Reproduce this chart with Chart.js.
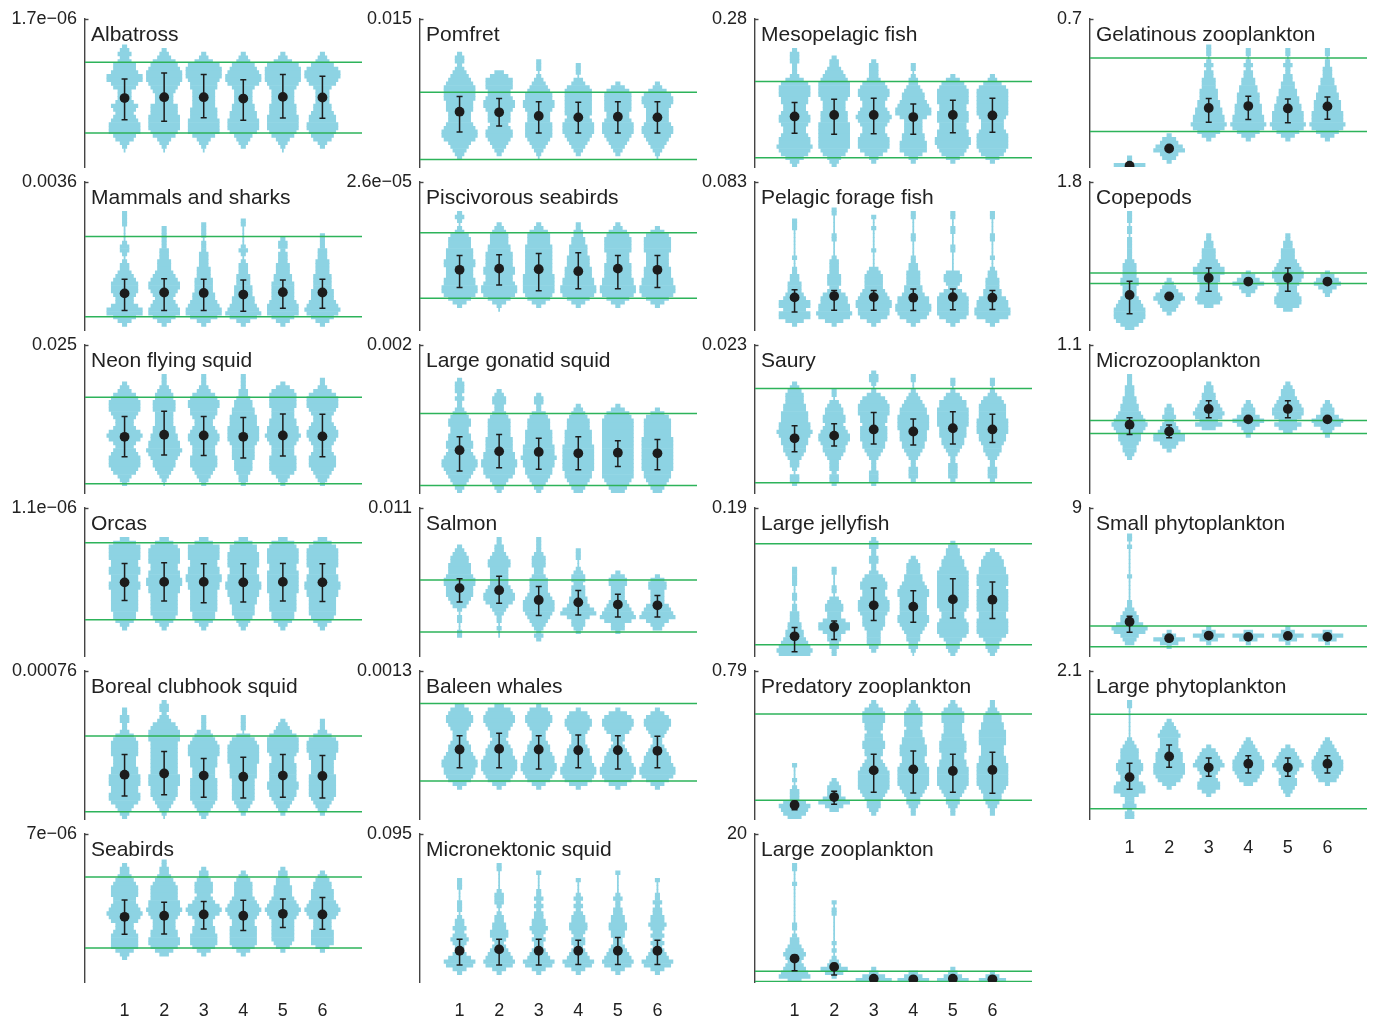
<!DOCTYPE html>
<html>
<head>
<meta charset="utf-8">
<title>Biomass distributions by group</title>
<script src="https://cdn.jsdelivr.net/npm/chart.js@4.4.1/dist/chart.umd.min.js"></script>
<style>
  html, body { margin: 0; padding: 0; background: #ffffff; }
  body { position: relative; width: 1373px; height: 1020px; overflow: hidden; }
  canvas { position: absolute; }
</style>
</head>
<body>
<script>
// ---- data -------------------------------------------------------------
// Panels run down each column, left to right.
const panelNames = [
  'Albatross', 'Mammals and sharks', 'Neon flying squid', 'Orcas', 'Boreal clubhook squid', 'Seabirds',
  'Pomfret', 'Piscivorous seabirds', 'Large gonatid squid', 'Salmon', 'Baleen whales', 'Micronektonic squid',
  'Mesopelagic fish', 'Pelagic forage fish', 'Saury', 'Large jellyfish', 'Predatory zooplankton', 'Large zooplankton',
  'Gelatinous zooplankton', 'Copepods', 'Microzooplankton', 'Small phytoplankton', 'Large phytoplankton'
];

// Upper end of each panel's axis, as printed.
const topLabels = [
  '1.7e\u221206', '0.0036', '0.025', '1.1e\u221206', '0.00076', '7e\u221206',
  '0.015', '2.6e\u221205', '0.002', '0.011', '0.0013', '0.095',
  '0.28', '0.083', '0.023', '0.19', '0.79', '20',
  '0.7', '1.8', '1.1', '9', '2.1'
];

// Scenario numbers along the x axis.
const scenarios = [1, 2, 3, 4, 5, 6];

// All values below are fractions of each panel's axis span (0 = bottom, 1 = top).
// Reference bounds (green lines); null where a panel has none.
const boundHigh = [0.707, 0.631, 0.646, 0.764, 0.560, 0.709,
                   0.505, 0.657, 0.536, 0.513, 0.779, null,
                   0.577, null, 0.705, 0.758, 0.709, 0.073,
                   0.735, 0.384, 0.489, 0.202, 0.707];
const boundLow  = [0.229, 0.090, 0.062, 0.245, 0.049, 0.229,
                   0.050, 0.215, 0.051, 0.162, 0.256, null,
                   0.062, null, 0.070, 0.076, 0.127, 0.004,
                   0.240, 0.313, 0.401, 0.062, 0.069];

// Mean of each scenario.
const means = [
  [0.465, 0.471, 0.471, 0.462, 0.473, 0.469],
  [0.247, 0.253, 0.250, 0.239, 0.255, 0.253],
  [0.379, 0.393, 0.388, 0.379, 0.388, 0.382],
  [0.497, 0.500, 0.500, 0.497, 0.500, 0.497],
  [0.299, 0.307, 0.293, 0.285, 0.293, 0.290],
  [0.440, 0.447, 0.456, 0.447, 0.460, 0.456],
  [0.373, 0.369, 0.344, 0.335, 0.339, 0.335],
  [0.406, 0.414, 0.410, 0.397, 0.414, 0.406],
  [0.289, 0.281, 0.277, 0.268, 0.272, 0.268],
  [0.458, 0.444, 0.378, 0.362, 0.347, 0.342],
  [0.469, 0.473, 0.469, 0.464, 0.464, 0.460],
  [0.211, 0.220, 0.211, 0.211, 0.211, 0.211],
  [0.341, 0.351, 0.351, 0.337, 0.351, 0.348],
  [0.220, 0.229, 0.222, 0.218, 0.222, 0.218],
  [0.369, 0.387, 0.429, 0.415, 0.437, 0.429],
  [0.133, 0.196, 0.342, 0.333, 0.382, 0.380],
  [0.095, 0.148, 0.328, 0.335, 0.324, 0.331],
  [0.158, 0.102, 0.022, 0.018, 0.022, 0.018],
  [0.009, 0.125, 0.398, 0.411, 0.395, 0.409],
  [0.236, 0.227, 0.351, 0.327, 0.351, 0.327],
  [0.461, 0.415, 0.567, 0.497, 0.567, 0.497],
  [0.231, 0.120, 0.138, 0.129, 0.136, 0.129],
  [0.282, 0.422, 0.347, 0.373, 0.347, 0.373]
];

// Error bar ends; null where the bar is too short to show.
const errHigh = [
  [0.593, 0.635, 0.624, 0.589, 0.624, 0.613],
  [0.343, 0.345, 0.343, 0.337, 0.337, 0.343],
  [0.517, 0.551, 0.517, 0.509, 0.533, 0.531],
  [0.624, 0.629, 0.622, 0.622, 0.624, 0.622],
  [0.436, 0.456, 0.408, 0.417, 0.436, 0.428],
  [0.553, 0.538, 0.544, 0.551, 0.560, 0.571],
  [0.475, 0.463, 0.441, 0.437, 0.441, 0.441],
  [0.503, 0.508, 0.516, 0.521, 0.503, 0.503],
  [0.379, 0.395, 0.370, 0.379, 0.353, 0.361],
  [0.522, 0.538, 0.469, 0.442, 0.416, 0.409],
  [0.562, 0.579, 0.562, 0.567, 0.562, 0.558],
  [0.288, 0.288, 0.288, 0.282, 0.300, 0.282],
  [0.436, 0.457, 0.464, 0.425, 0.450, 0.464],
  [0.271, 0.267, 0.267, 0.276, 0.276, 0.267],
  [0.454, 0.468, 0.543, 0.500, 0.549, 0.532],
  [0.193, 0.236, 0.458, 0.440, 0.522, 0.500],
  [0.120, 0.187, 0.437, 0.458, 0.437, 0.451],
  [0.180, 0.124, null, null, null, null],
  [null, null, 0.462, 0.478, 0.458, 0.473],
  [0.329, null, 0.418, null, 0.418, null],
  [0.507, 0.458, 0.623, null, 0.623, null],
  [0.269, null, null, null, null, null],
  [0.376, 0.500, 0.411, 0.427, 0.411, 0.427]
];
const errLow = [
  [0.318, 0.309, 0.333, 0.316, 0.331, 0.329],
  [0.132, 0.132, 0.132, 0.127, 0.146, 0.146],
  [0.245, 0.256, 0.253, 0.236, 0.250, 0.245],
  [0.374, 0.371, 0.360, 0.365, 0.371, 0.368],
  [0.155, 0.164, 0.147, 0.142, 0.147, 0.142],
  [0.322, 0.324, 0.358, 0.347, 0.367, 0.356],
  [0.237, 0.276, 0.229, 0.229, 0.229, 0.229],
  [0.287, 0.304, 0.265, 0.278, 0.278, 0.287],
  [0.149, 0.170, 0.161, 0.157, 0.179, 0.157],
  [0.364, 0.356, 0.273, 0.276, 0.264, 0.264],
  [0.345, 0.345, 0.337, 0.345, 0.337, 0.345],
  [0.114, 0.114, 0.114, 0.118, 0.118, 0.118],
  [0.228, 0.221, 0.225, 0.221, 0.231, 0.235],
  [0.122, 0.133, 0.133, 0.131, 0.136, 0.138],
  [0.278, 0.317, 0.331, 0.324, 0.331, 0.341],
  [0.029, 0.111, 0.240, 0.227, 0.256, 0.253],
  [0.063, 0.099, 0.180, 0.176, 0.180, 0.173],
  [0.076, 0.047, null, null, null, null],
  [null, null, 0.302, 0.320, 0.298, 0.322],
  [0.109, null, 0.262, null, 0.262, null],
  [0.394, 0.373, 0.507, null, 0.507, null],
  [0.160, null, null, null, null, null],
  [0.200, 0.349, 0.289, 0.311, 0.289, 0.311]
];

// Violin outlines. The axis is split into 40 equal bins counted from the top;
// "s:ddd" starts at bin s and gives one half-width digit per bin going down
// ('.' = thin connecting line, digit n = n * STEP scenario units).
const violinShapes = [
  ['7:1232355688653334654567775421.', '8:123567888765444666777765321.', '9:12478887665555566677775321.',
   '9:12356788754444556677764321', '9:12478888765555666777765321.', '9:12357887643333445667765421'],
  ['8:1111....1221.122345666544688531', '12:111111222333456776545677531', '11:1111.11122223334444556788631',
   '10:11.....121.122233344455678631', '15:122122233344555556777531', '14:1111222333344445556787531'],
  ['10:1235677765445787545677765321', '8:11123445554444556677876554321.', '8:111235677665445677655566654321',
   '8:111122344556667777655554443221', '10:1356666555667787655566665321', '9:11246777654456776544566654321'],
  ['8:2577776677667766666655421', '8:2467777667788776666665421', '8:2477776677887766666655421',
   '8:2466777766778877665554321', '8:2567777667777776666655421', '8:2467777766778877666665421'],
  ['10:112211245666655566777667764321', '8:1221235677766666666677766654321.', '12:1111345677766655566666654321',
   '12:1111.3567777766665555554321', '13:12346777765566666776654321', '13:11124677766555566666654321'],
  ['8:12234566655678764456666421', '7:11223456666778765556677642', '9:122344434578754455666531',
   '10:12344445678765566666531', '9:12233444567876555555431', '10:1234455567876444555531'],
  ['9:12212345677776665556788754321', '14:24666556776555456654321', '11:111.1234566776555666654321.',
   '12:111.235666666656777654321', '17:13566666556777654321', '17:12467765555677654321.'],
  ['8:121.1245556667766677887531', '11:12344455666677667887531.', '11:12455566666666777776531',
   '11:11223344455566677887531', '11:12456666555666677887531', '12:1356666555566677887531'],
  ['9:1222121123455445566567887654321', '12:1233223455555666677887764321', '13:122113455566667778776654321',
   '16:123455566667777777665432', '16:1356777777777777777765432', '17:13566666777777777665432'],
  ['10:123445556776665431.11..11', '8:11223455444445677643211.1..', '8:1111233322344445677765432121',
   '11:111..123323334457853321', '17:13443333456786331', '18:134433335678532'],
  ['9:24566543334556788776531', '9:25677654434566788876531', '9:14566543334556778876531',
   '10:1456654333455667887641', '10:1467765332345667887641', '10:1356654322345667887531'],
  ['12:111...111.1223234322357631', '8:11.....12221.12233443234567631', '10:1....11212122334323223457631',
   '12:1...1212123344323323457631', '10:1.....1211223344332234567631', '12:1...1121223343232323457631'],
  ['8:12221112467776655677655677876421', '10:122345677776555666777777765321', '11:1222235677655678765567776421',
   '12:11.122345567886444455666421', '15:135677776677766778876531', '15:124677777776555677776531'],
  ['10:111.......1..1122333457757741', '7:11.....11....1222233323566778741', '9:1..1.....1....2344445678877631',
   '8:11....11....1122333344577887631', '8:11..11...11.....344324677777631', '8:11....11....1..1223334467788731'],
  ['10:123444556667787665543221.221', '12:11.23445545677655432221221', '7:1221.13567776656666554321112221',
   '8:11..1234566777766655432112221', '9:11.1346677777666554321122221', '9:11.1245666677776654432112221'],
  ['16:11111..11.11222334456787', '16:11...11.2344335775332211', '8:1221122112456655677765554333321',
   '13:12333445677666667765433221.', '9:1233455677777777776556777643321', '11:13455667776777777667777643321'],
  ['25:1...1.122257653', '29:123335742', '8:1245554434455443456777776543321',
   '8:1234444344556665567777765433211', '8:1245554445566655667777765433211', '8:1123445566665556677777765443211'],
  ['8:11...1..........11.1223454345673', '18:1.11.......1.1.123641', '36:1258',
   '37:247', '36:1247', '37:136'],
  ['37:117', '31:13467431', '7:111.1212233344455667787531',
   '8:11.1212233445556667787531', '8:11.1211223344556677787531', '8:11.1122233445566677787531'],
  ['8:111.11.1111112333344333456777642', '26:1234675431', '14:11223334577554445652',
   '24:1357431', '14:112233345677654456652', '24:1356421'],
  ['8:11122233445678765543321', '16:1223234577431', '10:1223345676463',
   '15:1233575321', '10:12334567764642', '15:1233576321'],
  ['7:11.1.......1......112344687432', '33:13741', '32:13741',
   '33:2741', '32:13741', '33:2741'],
  ['8:11........1234445665446774223122', '13:1234544456667776531', '20:13456754345531',
   '18:1234567776542', '20:13456754344321', '18:1234567776541']
];

// ---- styling ----------------------------------------------------------
const FONT = '"Liberation Sans", Arial, Helvetica, sans-serif';
const TEXT = '#222222';
const AXIS = '#444444';
const VIOLIN = '#8dd3e3';
const BOUND = '#2db35a';
const INK = '#1c1c1c';
const BINS = 40;
const STEP = 0.056;   // half-width per digit, in scenario units
const THREAD = 0.014; // half-width of the thin connecting line

Chart.defaults.font.family = FONT;
Chart.defaults.color = TEXT;

// Horizontal floating bars, one per occupied bin, stacked into violins.
function violinBars(shapes) {
  const bars = [];
  shapes.forEach((shape, k) => {
    const centre = scenarios[k];
    const [startText, body] = shape.split(':');
    const start = parseInt(startText, 10);
    for (let j = 0; j < body.length; j++) {
      const bin = start + j;
      const ch = body[j];
      if (bin >= BINS || ch === ' ') continue;
      const half = ch === '.' ? THREAD : Number(ch) * STEP;
      if (!(half > 0)) continue;
      bars.push({ y: 1 - (bin + 0.5) / BINS, x: [centre - half, centre + half] });
    }
  });
  return bars;
}

// Axis cap tick and the panel title inside the plot box.
const panelDecor = {
  id: 'panelDecor',
  afterDraw(chart, args, opts) {
    const { ctx, chartArea } = chart;
    const top = chart.scales.y.getPixelForValue(1);
    ctx.save();
    ctx.strokeStyle = AXIS;
    ctx.lineWidth = 1.4;
    ctx.beginPath();
    ctx.moveTo(chartArea.left, top + 0.7);
    ctx.lineTo(chartArea.left + 3.5, top + 0.7);
    ctx.stroke();
    ctx.fillStyle = TEXT;
    ctx.font = '21px ' + FONT;
    ctx.textAlign = 'left';
    ctx.textBaseline = 'alphabetic';
    ctx.fillText(opts.title, chartArea.left + 6, chartArea.top + 22);
    ctx.restore();
  }
};

function buildPanel(p) {
  const col = Math.floor(p / 6);
  const row = p % 6;
  const isBottom = row === 5 || p === panelNames.length - 1;
  const width = 370;
  // plot box: 17px from the canvas top, 150px tall; the rest is margin
  const bottomRoom = isBottom ? 40 : 20;
  const height = 17 + 150 + bottomRoom;

  const canvas = document.createElement('canvas');
  canvas.width = width;
  canvas.height = height;
  canvas.style.left = (335 * col) + 'px';
  canvas.style.top = (163 * row) + 'px';
  canvas.style.width = width + 'px';
  canvas.style.height = height + 'px';
  document.body.appendChild(canvas);

  const datasets = [];
  datasets.push({
    type: 'bar',
    indexAxis: 'y',
    data: violinBars(violinShapes[p]),
    backgroundColor: VIOLIN,
    borderWidth: 0,
    barPercentage: 1,
    categoryPercentage: 1,
    order: 3
  });
  [boundHigh[p], boundLow[p]].forEach(level => {
    if (level === null) return;
    datasets.push({
      type: 'line',
      data: [{ x: 0, y: level }, { x: 7, y: level }],
      borderColor: BOUND,
      borderWidth: 1.5,
      pointRadius: 0,
      order: 2
    });
  });

  const stems = [];
  const caps = [];
  scenarios.forEach((s, k) => {
    const hi = errHigh[p][k];
    const lo = errLow[p][k];
    if (hi === null || lo === null) return;
    stems.push({ x: s, y: lo }, { x: s, y: hi }, { x: s, y: null });
    caps.push({ x: s, y: lo }, { x: s, y: hi });
  });
  datasets.push({
    type: 'line',
    data: stems,
    borderColor: INK,
    borderWidth: 1.5,
    pointRadius: 0,
    spanGaps: false,
    order: 1
  });
  datasets.push({
    type: 'scatter',
    data: caps,
    pointStyle: 'line',
    pointRadius: 3,
    borderColor: INK,
    borderWidth: 1.5,
    order: 1
  });
  datasets.push({
    type: 'scatter',
    data: scenarios.map((s, k) => ({ x: s, y: means[p][k] })),
    pointRadius: 4.9,
    backgroundColor: INK,
    borderWidth: 0,
    order: 0
  });

  new Chart(canvas, {
    type: 'bar',
    data: { datasets },
    options: {
      responsive: false,
      animation: false,
      devicePixelRatio: 1,
      events: [],
      layout: { padding: { top: 17, right: 8, bottom: isBottom ? 0 : bottomRoom, left: 0 } },
      plugins: {
        legend: { display: false },
        tooltip: { enabled: false },
        panelDecor: { title: panelNames[p] }
      },
      scales: {
        x: {
          type: 'linear',
          min: 0,
          max: 7,
          offset: false,
          display: isBottom,
          grid: { display: false, drawTicks: false },
          border: { display: false },
          afterBuildTicks: scale => { scale.ticks = scenarios.map(v => ({ value: v })); },
          afterFit: scale => { scale.height = isBottom ? bottomRoom : 0; },
          ticks: {
            padding: 18,
            color: TEXT,
            font: { size: 18, family: FONT },
            maxRotation: 0,
            autoSkip: false,
            callback: v => String(v)
          }
        },
        y: {
          type: 'linear',
          min: 0,
          max: 1,
          offset: false,
          grid: { display: false, drawTicks: false },
          border: { display: true, color: AXIS, width: 1.4 },
          afterBuildTicks: scale => { scale.ticks = [{ value: 1 }]; },
          afterFit: scale => { scale.width = 85; },
          ticks: {
            padding: 8,
            color: TEXT,
            font: { size: 18, family: FONT },
            autoSkip: false,
            callback: () => topLabels[p]
          }
        }
      }
    },
    plugins: [panelDecor]
  });
}

panelNames.forEach((name, p) => buildPanel(p));
</script>
</body>
</html>
